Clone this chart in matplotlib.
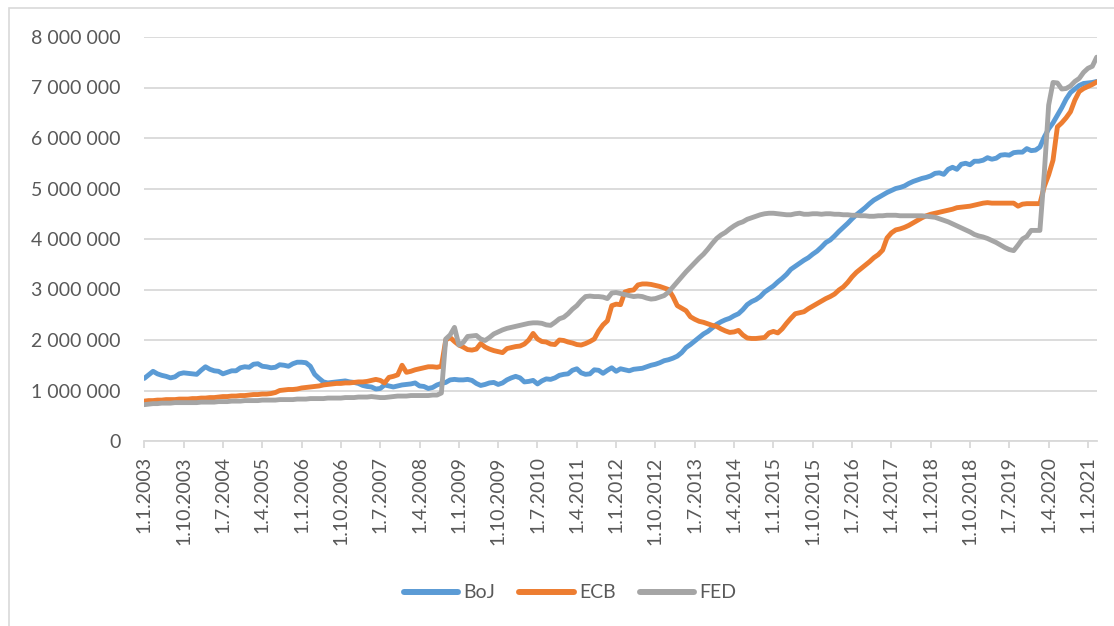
import matplotlib
matplotlib.use("Agg")
import matplotlib.pyplot as plt
from matplotlib.patches import Rectangle
from matplotlib.ticker import FuncFormatter
import pandas as pd

# Monthly balance sheet sizes (millions of USD), Jan 2003 .. Mar 2021
months = pd.date_range("2003-01-01", "2021-03-01", freq="MS")

boj = [
    1.24, 1.31, 1.38, 1.33, 1.30, 1.28, 1.25, 1.27, 1.33, 1.35, 1.34, 1.33,  # 2003
    1.32, 1.40, 1.47, 1.42, 1.39, 1.38, 1.33, 1.36, 1.39, 1.39, 1.45, 1.47,  # 2004
    1.46, 1.52, 1.53, 1.48, 1.47, 1.45, 1.46, 1.51, 1.50, 1.48, 1.53, 1.56,  # 2005
    1.56, 1.55, 1.48, 1.32, 1.24, 1.17, 1.15, 1.16, 1.17, 1.18, 1.19, 1.17,  # 2006
    1.16, 1.14, 1.10, 1.08, 1.07, 1.03, 1.04, 1.11, 1.09, 1.07, 1.09, 1.11,  # 2007
    1.12, 1.13, 1.15, 1.09, 1.08, 1.04, 1.06, 1.11, 1.14, 1.16, 1.21, 1.22,  # 2008
    1.21, 1.21, 1.22, 1.20, 1.14, 1.10, 1.12, 1.15, 1.16, 1.12, 1.15, 1.21,  # 2009
    1.25, 1.28, 1.25, 1.17, 1.18, 1.20, 1.13, 1.19, 1.23, 1.22, 1.25, 1.30,  # 2010
    1.32, 1.33, 1.40, 1.43, 1.35, 1.32, 1.33, 1.41, 1.40, 1.34, 1.40, 1.45,  # 2011
    1.38, 1.43, 1.41, 1.39, 1.42, 1.43, 1.44, 1.47, 1.50, 1.52, 1.55, 1.59,  # 2012
    1.61, 1.64, 1.68, 1.75, 1.85, 1.91, 1.98, 2.05, 2.12, 2.17, 2.24, 2.31,  # 2013
    2.36, 2.40, 2.43, 2.48, 2.52, 2.60, 2.70, 2.76, 2.80, 2.86, 2.95, 3.01,  # 2014
    3.07, 3.15, 3.22, 3.30, 3.40, 3.46, 3.52, 3.58, 3.63, 3.70, 3.76, 3.84,  # 2015
    3.93, 3.98, 4.06, 4.15, 4.23, 4.31, 4.40, 4.48, 4.55, 4.62, 4.70, 4.77,  # 2016
    4.82, 4.87, 4.92, 4.96, 5.00, 5.02, 5.05, 5.10, 5.14, 5.17, 5.20, 5.22,  # 2017
    5.25, 5.30, 5.31, 5.28, 5.38, 5.42, 5.38, 5.48, 5.50, 5.47, 5.54, 5.54,  # 2018
    5.56, 5.61, 5.58, 5.60, 5.66, 5.67, 5.66, 5.71, 5.72, 5.72, 5.79, 5.75,  # 2019
    5.76, 5.82, 6.02, 6.18, 6.30, 6.45, 6.60, 6.77, 6.90, 6.97, 7.04, 7.08,  # 2020
    7.09, 7.10, 7.12,                                                        # 2021
]

ecb = [
    0.79, 0.80, 0.80, 0.81, 0.81, 0.82, 0.82, 0.82, 0.83, 0.83, 0.83, 0.84,  # 2003
    0.84, 0.85, 0.85, 0.86, 0.86, 0.87, 0.88, 0.88, 0.89, 0.89, 0.90, 0.90,  # 2004
    0.91, 0.92, 0.92, 0.93, 0.93, 0.94, 0.96, 1.00, 1.01, 1.02, 1.02, 1.03,  # 2005
    1.05, 1.06, 1.07, 1.08, 1.09, 1.11, 1.12, 1.13, 1.14, 1.14, 1.15, 1.15,  # 2006
    1.16, 1.17, 1.17, 1.18, 1.20, 1.22, 1.20, 1.15, 1.26, 1.28, 1.31, 1.50,  # 2007
    1.36, 1.38, 1.41, 1.43, 1.45, 1.47, 1.47, 1.46, 1.48, 2.00, 2.05, 1.97,  # 2008
    1.90, 1.86, 1.81, 1.80, 1.82, 1.93, 1.86, 1.82, 1.79, 1.77, 1.75, 1.83,  # 2009
    1.85, 1.87, 1.88, 1.92, 2.00, 2.13, 2.02, 1.97, 1.96, 1.92, 1.91, 2.00,  # 2010
    1.99, 1.96, 1.94, 1.91, 1.90, 1.93, 1.97, 2.02, 2.18, 2.30, 2.38, 2.68,  # 2011
    2.71, 2.70, 2.95, 2.98, 2.99, 3.09, 3.11, 3.11, 3.10, 3.08, 3.06, 3.03,  # 2012
    3.00, 2.86, 2.68, 2.63, 2.58, 2.46, 2.41, 2.37, 2.35, 2.32, 2.29, 2.27,  # 2013
    2.22, 2.18, 2.15, 2.16, 2.19, 2.10, 2.04, 2.03, 2.03, 2.04, 2.05, 2.14,  # 2014
    2.17, 2.14, 2.22, 2.33, 2.43, 2.52, 2.54, 2.56, 2.62, 2.67, 2.72, 2.77,  # 2015
    2.82, 2.86, 2.91, 2.99, 3.05, 3.14, 3.25, 3.34, 3.41, 3.48, 3.55, 3.63,  # 2016
    3.69, 3.78, 4.02, 4.12, 4.18, 4.20, 4.23, 4.27, 4.32, 4.37, 4.42, 4.46,  # 2017
    4.49, 4.51, 4.53, 4.55, 4.57, 4.59, 4.62, 4.63, 4.64, 4.65, 4.67, 4.69,  # 2018
    4.71, 4.72, 4.71, 4.71, 4.71, 4.71, 4.71, 4.71, 4.65, 4.69, 4.70, 4.70,  # 2019
    4.70, 4.70, 5.04, 5.27, 5.56, 6.22, 6.30, 6.40, 6.52, 6.75, 6.92, 6.98,  # 2020
    7.02, 7.06, 7.11,                                                        # 2021
]

fed = [
    0.72, 0.73, 0.74, 0.74, 0.75, 0.75, 0.75, 0.76, 0.76, 0.76, 0.76, 0.76,  # 2003
    0.76, 0.77, 0.77, 0.77, 0.77, 0.78, 0.78, 0.78, 0.79, 0.79, 0.79, 0.80,  # 2004
    0.80, 0.80, 0.80, 0.81, 0.81, 0.81, 0.81, 0.82, 0.82, 0.82, 0.82, 0.83,  # 2005
    0.83, 0.83, 0.84, 0.84, 0.84, 0.84, 0.85, 0.85, 0.85, 0.85, 0.86, 0.86,  # 2006
    0.86, 0.87, 0.87, 0.87, 0.88, 0.87, 0.86, 0.86, 0.87, 0.88, 0.89, 0.89,  # 2007
    0.89, 0.90, 0.90, 0.90, 0.90, 0.90, 0.91, 0.91, 0.95, 2.02, 2.10, 2.25,  # 2008
    1.90, 1.95, 2.07, 2.08, 2.09, 2.02, 1.99, 2.05, 2.12, 2.16, 2.20, 2.23,  # 2009
    2.25, 2.27, 2.29, 2.31, 2.33, 2.34, 2.34, 2.33, 2.30, 2.29, 2.35, 2.42,  # 2010
    2.45, 2.52, 2.61, 2.68, 2.78, 2.86, 2.87, 2.86, 2.86, 2.85, 2.82, 2.93,  # 2011
    2.94, 2.92, 2.90, 2.88, 2.86, 2.87, 2.86, 2.83, 2.81, 2.82, 2.85, 2.88,  # 2012
    2.95, 3.05, 3.15, 3.25, 3.35, 3.44, 3.53, 3.62, 3.70, 3.80, 3.91, 4.01,  # 2013
    4.08, 4.13, 4.20, 4.26, 4.31, 4.34, 4.39, 4.42, 4.45, 4.48, 4.50, 4.51,  # 2014
    4.51, 4.50, 4.49, 4.48, 4.48, 4.50, 4.51, 4.49, 4.49, 4.50, 4.50, 4.49,  # 2015
    4.50, 4.50, 4.49, 4.49, 4.48, 4.48, 4.47, 4.47, 4.46, 4.46, 4.45, 4.45,  # 2016
    4.46, 4.46, 4.47, 4.47, 4.47, 4.46, 4.46, 4.46, 4.46, 4.46, 4.46, 4.45,  # 2017
    4.44, 4.43, 4.40, 4.37, 4.34, 4.30, 4.26, 4.22, 4.18, 4.14, 4.09, 4.06,  # 2018
    4.04, 4.01, 3.97, 3.93, 3.88, 3.83, 3.79, 3.77, 3.88, 4.00, 4.05, 4.17,  # 2019
    4.17, 4.17, 5.30, 6.65, 7.10, 7.09, 6.97, 6.98, 7.03, 7.12, 7.18, 7.30,  # 2020
    7.38, 7.42, 7.60,                                                        # 2021
]

series_names = ["BoJ", "ECB", "FED"]
series_colors = ["#5B9BD5", "#ED7D31", "#A5A5A5"]
tick_step = 9
y_ticks = [0, 1_000_000, 2_000_000, 3_000_000, 4_000_000,
           5_000_000, 6_000_000, 7_000_000, 8_000_000]

FONT = "Lato"
TXT = "#595959"
GRID = "#D9D9D9"

fig = plt.figure(figsize=(11.14, 6.26), dpi=100)
fig.patch.set_facecolor("white")
ax = fig.add_axes([144.3 / 1114, 1 - 441 / 626, (1096.7 - 144.3) / 1114, (441 - 37) / 626])

x = list(range(len(months)))
for name, vals, col in zip(series_names, [boj, ecb, fed], series_colors):
    ax.plot(x, [v * 1_000_000 for v in vals], color=col, lw=3.5, label=name,
            solid_joinstyle="round", solid_capstyle="round")

ax.set_xlim(0, len(months) - 1)
ax.set_ylim(0, 8_000_000)
ax.set_yticks(y_ticks)
ax.yaxis.set_major_formatter(FuncFormatter(lambda v, p: f"{int(v):,}".replace(",", " ")))
ax.grid(axis="y", color=GRID, lw=1.3)
ax.set_axisbelow(True)

tick_pos = x[::tick_step]
tick_labels = [f"{d.day}.{d.month}.{d.year}" for d in months[::tick_step]]
ax.set_xticks(tick_pos)
ax.set_xticklabels(tick_labels, rotation=90, fontfamily=FONT, fontsize=14, color=TXT)

for s in ["top", "right", "left"]:
    ax.spines[s].set_visible(False)
ax.spines["bottom"].set_color(GRID)
ax.spines["bottom"].set_linewidth(1.3)
ax.tick_params(axis="x", length=5, width=1.3, color=GRID, pad=6)
ax.tick_params(axis="y", length=0, pad=17, labelsize=14, labelcolor=TXT)
for lab in ax.get_yticklabels():
    lab.set_fontfamily(FONT)

leg = fig.legend(loc="center", bbox_to_anchor=(570 / 1114, 1 - 593 / 626), ncol=3,
                 frameon=False, prop={"family": FONT, "size": 14},
                 handlelength=2.8, handletextpad=0.26, columnspacing=1.25,
                 labelcolor=TXT)
for h in leg.get_lines():
    h.set_linewidth(4.3)
    h.set_solid_capstyle("round")

fig.add_artist(Rectangle((8.5 / 1114, -0.05), 1.2, 1.05 - 8.3 / 626,
                         transform=fig.transFigure, fill=False,
                         edgecolor=GRID, lw=1.2))

fig.savefig("out.png", dpi=100)
